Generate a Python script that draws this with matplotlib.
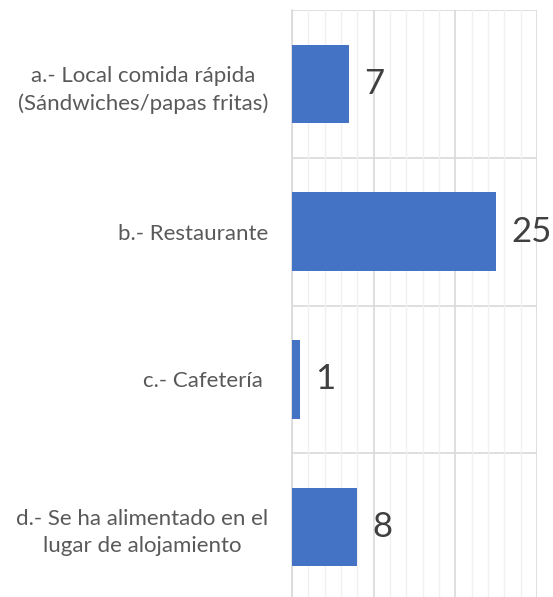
import matplotlib.pyplot as plt
import numpy as np

plt.rcParams['font.family'] = ['Lato', 'DejaVu Sans']

categories = ["a.- Local comida rápida\n(Sándwiches/papas fritas)",
              "b.- Restaurante",
              "c.- Cafetería ",
              "d.- Se ha alimentado en el\nlugar de alojamiento"]
values = [7, 25, 1, 8]

fig = plt.figure(figsize=(5.53, 5.97), dpi=100)
# axes run a bit past the bottom edge, as in the original crop
ax = fig.add_axes([292 / 553, -4 / 597, 245 / 553, 591 / 597])

y = np.arange(len(categories))
ax.barh(y, values, height=0.53, color='#4472c4', zorder=3)

ax.set_xlim(0, 30)
ax.set_ylim(len(categories) - 0.5, -0.5)

# vertical grid: major every 10, minor every 2
ax.set_xticks([0, 10, 20, 30])
ax.set_xticks(np.arange(0, 31, 2), minor=True)
ax.grid(axis='x', which='minor', color='#f0f0f0', linewidth=1, zorder=0)
ax.grid(axis='x', which='major', color='#d9d9d9', linewidth=1.2, zorder=1)
ax.tick_params(axis='x', which='both', length=0, labelbottom=False)

# horizontal lines between categories
for b in np.arange(-0.5, len(categories), 1):
    ax.axhline(b, color='#d9d9d9', linewidth=1.2, zorder=1)

for s in ['top', 'right', 'bottom']:
    ax.spines[s].set_visible(False)
ax.spines['left'].set_color('#d9d9d9')
ax.spines['left'].set_linewidth(1.2)

ax.set_yticks(y)
ax.set_yticklabels(categories, fontsize=16, color='#595959', linespacing=1.45)
ax.tick_params(axis='y', length=0, pad=17)
for lab in ax.get_yticklabels():
    lab.set_multialignment('center')

for yi, v in zip(y, values):
    ax.annotate(str(v), (v, yi), xytext=(11, 0), textcoords='offset points',
                ha='left', va='center', fontsize=25, color='#404040')

fig.savefig('out.png', dpi=100)
